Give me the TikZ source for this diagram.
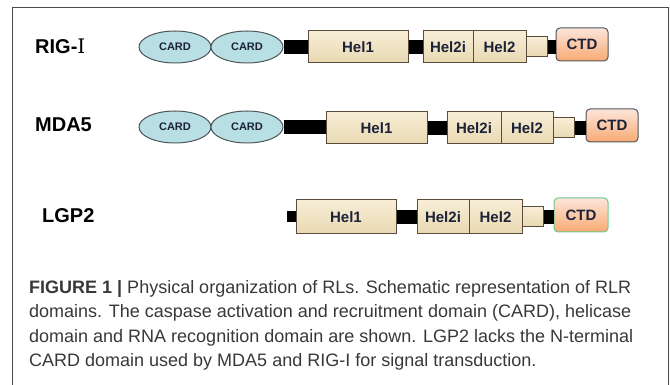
\documentclass[tikz,border=0pt]{standalone}
\usepackage{fontspec}
\setmainfont{Liberation Sans}
\newfontfamily\chiffre{DejaVu Serif}
\usepackage{tikz}
\usetikzlibrary{shapes.geometric}

\definecolor{cardfond}{HTML}{B8DFE3}
\definecolor{cardtrait}{HTML}{4F5558}
\definecolor{helhaut}{HTML}{F8EDD6}
\definecolor{helbas}{HTML}{E8D9B2}
\definecolor{heltrait}{HTML}{5A4C3C}
\definecolor{ctdhaut}{HTML}{FDE5DA}
\definecolor{ctdmilieu}{HTML}{F9B888}
\definecolor{ctdbas}{HTML}{F7AA72}
\definecolor{ctdvert}{HTML}{6CC88C}
\definecolor{texte}{HTML}{1C2238}
\definecolor{legende}{HTML}{383838}

\begin{document}
\begin{tikzpicture}[x=1pt, y=-1pt,
    card/.style={ellipse, draw=cardtrait, line width=1pt, fill=cardfond, minimum width=72pt, minimum height=32pt, inner sep=0pt, text=texte, font=\fontsize{11}{11}\selectfont\bfseries},
    hel/.style={rectangle, draw=heltrait, line width=1pt, top color=helhaut, bottom color=helbas, minimum height=32pt, inner sep=0pt, text=texte, font=\fontsize{15}{15}\selectfont\bfseries},
    pince/.style={hel, minimum width=21pt, minimum height=20pt},
    ctd/.style={rectangle, rounded corners=4pt, draw=cardtrait, line width=1pt, top color=ctdhaut, middle color=ctdmilieu, bottom color=ctdbas, minimum width=52pt, minimum height=33pt, inner sep=0pt, text=texte, font=\fontsize{15}{15}\selectfont\bfseries},
    lien/.style={line width=14pt, black},
    nom/.style={anchor=west, inner sep=0pt, font=\fontsize{20}{20}\selectfont\bfseries}]
    \useasboundingbox (0,0) rectangle (670,385);

    % Le cadre
    \draw[line width=1pt, black!70] (12,385) -- (12,8) -- (668,8) -- (668,385);

    % RIG-I
    \node[nom] (rnom) at (35,46) {RIG-{\chiffre\mdseries Ⅰ}};
    \node[card] (rcard1) at (175,47) {CARD};
    \node[card] (rcard2) at (247,47) {CARD};
    \node[hel, minimum width=100pt] (rhel1) at (358,47) {Hel1};
    \node[hel, minimum width=50pt] (rhel2i) at (448,47) {Hel2i};
    \node[hel, minimum width=53pt] (rhel2) at (499.5,47) {Hel2};
    \node[pince] (rpince) at (536.5,47) {};
    \node[ctd] (rctd) at (582,44.5) {CTD};
    \draw[lien] (rcard2.east) -- (rhel1.west);
    \draw[lien] (rhel1.east) -- (rhel2i.west);
    \draw[lien] (rpince.east) -- (rpince.east -| rctd.west);

    % MDA5
    \node[nom] (mnom) at (35,125) {MDA5};
    \node[card] (mcard1) at (175,127) {CARD};
    \node[card] (mcard2) at (247,127) {CARD};
    \node[hel, minimum width=101pt] (mhel1) at (376.5,128) {Hel1};
    \node[hel, minimum width=54pt] (mhel2i) at (474,128) {Hel2i};
    \node[hel, minimum width=52pt] (mhel2) at (527,128) {Hel2};
    \node[pince] (mpince) at (563.5,128) {};
    \node[ctd] (mctd) at (612,125.5) {CTD};
    \draw[lien] (mcard2.east) -- (mcard2.east -| mhel1.west);
    \draw[lien] (mhel1.east) -- (mhel2i.west);
    \draw[lien] (mpince.east) -- (mpince.east -| mctd.west);

    % LGP2
    \node[nom] (lnom) at (42,216) {LGP2};
    \coordinate (ldebut) at (287,217);
    \node[hel, minimum width=100pt, minimum height=34pt] (lhel1) at (346,217) {Hel1};
    \node[hel, minimum width=52pt, minimum height=34pt] (lhel2i) at (443,217) {Hel2i};
    \node[hel, minimum width=53pt, minimum height=34pt] (lhel2) at (495.5,217) {Hel2};
    \node[pince] (lpince) at (532.5,217) {};
    \node[ctd, draw=ctdvert, minimum width=54pt, minimum height=34pt] (lctd) at (581,215) {CTD};
    \draw[line width=11pt] (ldebut) -- (lhel1.west);
    \draw[lien] (lhel1.east) -- (lhel2i.west);
    \draw[lien] (lpince.east) -- (lpince.east -| lctd.west);

    % La legende
    \node[anchor=north west, inner sep=0pt, align=left, text=legende, font=\fontsize{18}{24.5}\selectfont] (legende) at (29,280)
      {\textbf{FIGURE 1 |} Physical organization of RLs. Schematic representation of RLR\\
       domains. The caspase activation and recruitment domain (CARD), helicase\\
       domain and RNA recognition domain are shown. LGP2 lacks the N-terminal\\
       CARD domain used by MDA5 and RIG-I for signal transduction.};
\end{tikzpicture}
\end{document}
